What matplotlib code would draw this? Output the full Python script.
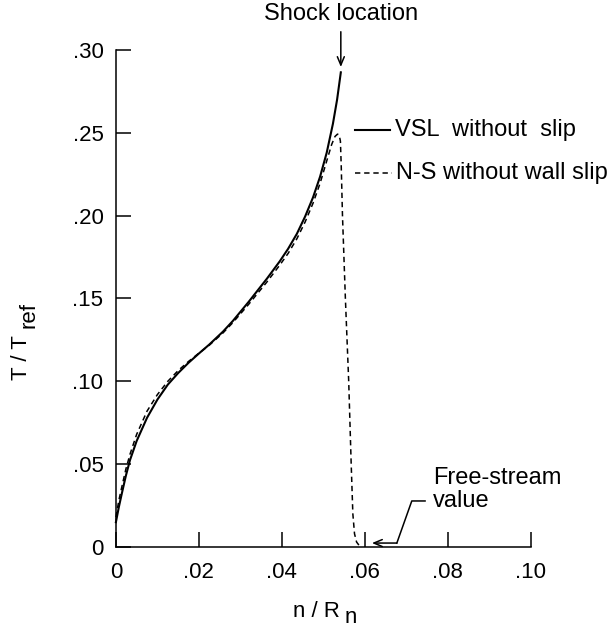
from matplotlib import pyplot as plt

plt.rcParams['font.family'] = ['Liberation Sans', 'DejaVu Sans']

# VSL without slip (solid)
vsl_x = [0, 0.0007, 0.0014, 0.0024, 0.0034, 0.005, 0.0075, 0.010, 0.0125, 0.015,
         0.0175, 0.020, 0.0225, 0.0258, 0.0282, 0.032, 0.0364, 0.0395, 0.0415,
         0.0436, 0.0456, 0.0475, 0.0492, 0.0508, 0.0523, 0.0533, 0.0542]
vsl_y = [0.015, 0.024, 0.032, 0.043, 0.0525, 0.064, 0.078, 0.089, 0.098, 0.105,
         0.1112, 0.1168, 0.1222, 0.1300, 0.1365, 0.1480, 0.1620, 0.1725, 0.1800,
         0.1890, 0.1995, 0.2110, 0.2235, 0.2380, 0.2555, 0.2700, 0.2865]

# N-S without wall slip (dashed)
ns_x = [0, 0.0007, 0.0014, 0.0024, 0.0034, 0.005, 0.0075, 0.010, 0.0125, 0.015,
        0.0175, 0.020, 0.0225, 0.0258, 0.0282, 0.032, 0.0364, 0.0395, 0.0415,
        0.0436, 0.0456, 0.0475, 0.0492, 0.0508, 0.0520, 0.0528, 0.0534, 0.0538,
        0.0541, 0.0543, 0.0546, 0.0553, 0.0561, 0.0567, 0.0571, 0.0575, 0.0580,
        0.0586]
ns_y = [0.018, 0.028, 0.036, 0.047, 0.056, 0.068, 0.082, 0.092, 0.100, 0.1065,
        0.112, 0.117, 0.1218, 0.1292, 0.1355, 0.1465, 0.1600, 0.1702, 0.1772,
        0.1860, 0.1962, 0.2075, 0.2195, 0.2330, 0.2430, 0.2478, 0.2492, 0.2487,
        0.2450, 0.2300, 0.200, 0.150, 0.100, 0.050, 0.020, 0.008, 0.003,
        0.001]

xticks = [0, 0.02, 0.04, 0.06, 0.08, 0.10]
xticklabels = ['0', '.02', '.04', '.06', '.08', '.10']
yticks = [0, 0.05, 0.10, 0.15, 0.20, 0.25, 0.30]
yticklabels = ['0', '.05', '.10', '.15', '.20', '.25', '.30']

fs_tick = 16
fs_txt = 17
fs_lab = 16
W, H = 610, 630

fig = plt.figure(figsize=(6.1, 6.3), dpi=100)
ax = fig.add_axes([0.190, 0.1317, 0.6803, 0.789])

ax.plot(vsl_x, vsl_y, color='black', lw=1.5, clip_on=False)
ax.plot(ns_x, ns_y, color='black', lw=1.1, dashes=(3.5, 2.5), clip_on=False)

ax.set_xlim(0, 0.10)
ax.set_ylim(0, 0.30)
ax.set_xticks(xticks)
ax.set_xticklabels(xticklabels)
ax.set_yticks(yticks)
ax.set_yticklabels(yticklabels)
ax.tick_params(direction='in', length=10.5, width=1.1, labelsize=fs_tick)
ax.tick_params(axis='x', pad=11)
ax.tick_params(axis='y', pad=9)
for side in ['top', 'right']:
    ax.spines[side].set_visible(False)
for side in ['left', 'bottom']:
    ax.spines[side].set_linewidth(1.1)

# axis labels with full-size lowered subscripts
fig.text(293 / W, 1 - 617 / H, 'n / R', fontsize=fs_lab, ha='left', va='baseline')
fig.text(345 / W, 1 - 623 / H, 'n', fontsize=fs_lab, ha='left', va='baseline')
fig.text(27 / W, 1 - 380 / H, 'T / T', fontsize=fs_lab, ha='left', va='baseline',
         rotation=90, rotation_mode='anchor')
fig.text(35 / W, 1 - 328 / H, 'ref', fontsize=fs_lab, ha='left', va='baseline',
         rotation=90, rotation_mode='anchor')

# legend drawn by hand
ax.plot([0.0576, 0.0660], [0.2517, 0.2517], color='black', lw=1.5, clip_on=False)
ax.text(0.0672, 0.2517, 'VSL  without  slip', fontsize=fs_txt, va='center', ha='left')
ax.plot([0.0576, 0.0665], [0.2258, 0.2258], color='black', lw=1.1,
        dashes=(3.5, 2.5), clip_on=False)
ax.text(0.0676, 0.2258, 'N-S without wall slip', fontsize=fs_txt, va='center', ha='left')

# shock location
ax.text(0.0542, 0.322, 'Shock location', fontsize=fs_txt, ha='center', va='center')
ax.annotate('', xy=(0.0542, 0.2897), xytext=(0.0542, 0.311),
            arrowprops=dict(arrowstyle='->,head_length=0.6,head_width=0.25',
                            color='black', lw=1.1, shrinkA=0, shrinkB=0))

# free-stream value
ax.plot([0.0745, 0.0713, 0.0677], [0.0278, 0.0278, 0.0024], color='black',
        lw=1.1, clip_on=False)
ax.annotate('', xy=(0.0617, 0.0024), xytext=(0.0677, 0.0024),
            arrowprops=dict(arrowstyle='->,head_length=0.6,head_width=0.25',
                            color='black', lw=1.1, shrinkA=0, shrinkB=0))
ax.text(0.0764, 0.0483, 'Free-stream\nvalue', fontsize=fs_txt, ha='left', va='top',
        linespacing=1.05)

fig.savefig('out.png', dpi=100)
